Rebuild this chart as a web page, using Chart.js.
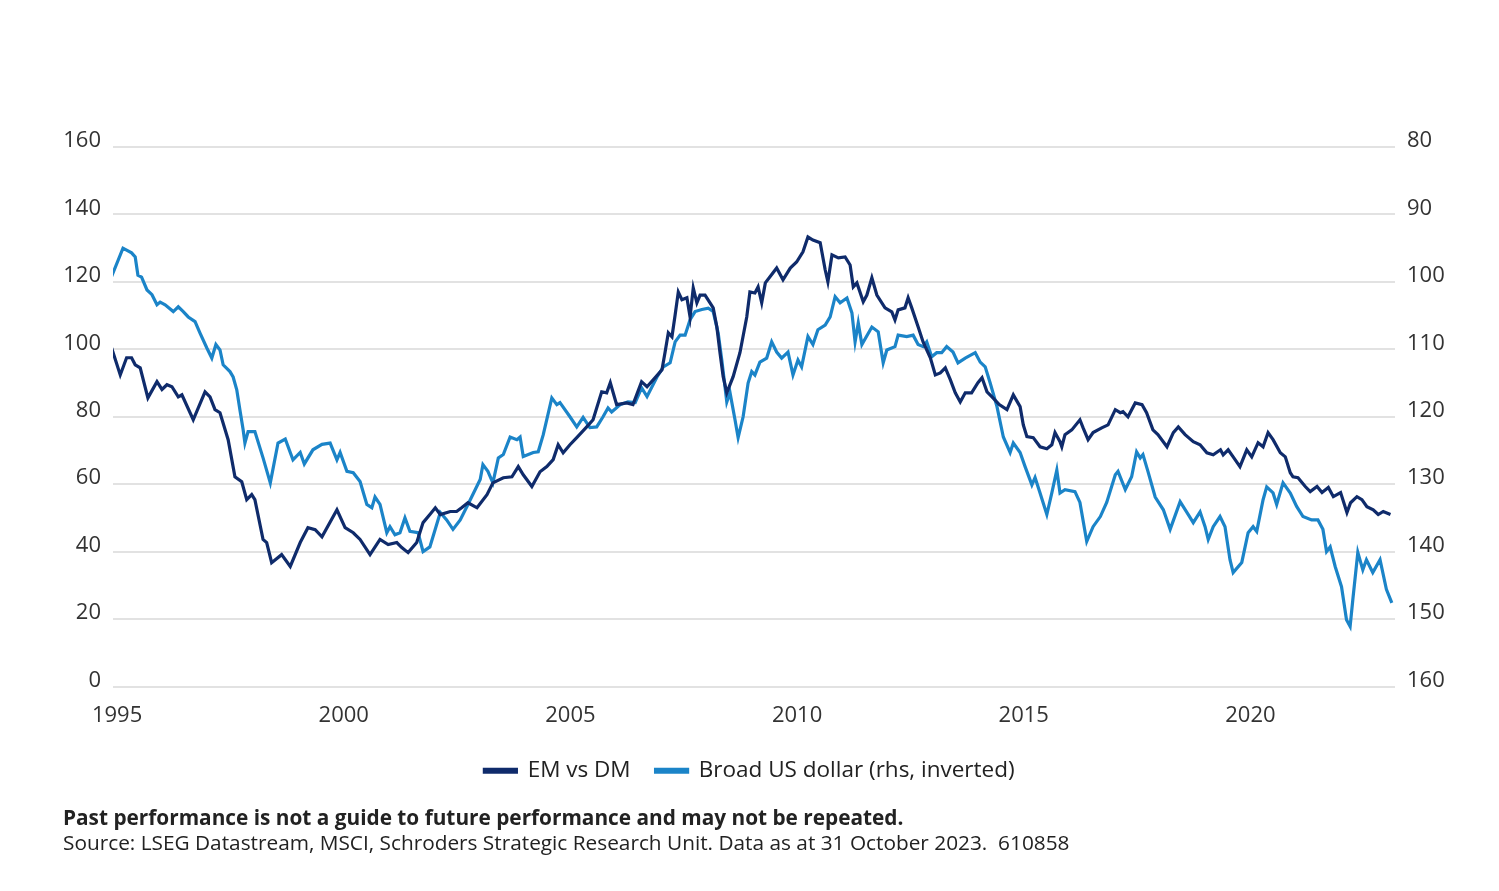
<!DOCTYPE html>
<html>
<head>
<meta charset="utf-8">
<script src="https://cdn.jsdelivr.net/npm/chart.js@4"></script>
<style>
  body { margin: 0; background: #fff; }
  #wrap { position: absolute; left: 0; top: 0; width: 1499px; height: 891px; }
  .note { position: absolute; left: 63px; font-family: "Open Sans", sans-serif; font-size: 20.8px; color: #222; white-space: nowrap; }
  #note1 { top: 803px; font-weight: bold; }
  #note2 { top: 828px; }
</style>
</head>
<body>
<div id="wrap"><canvas id="chart1"></canvas></div>
<div class="note" id="note1">Past performance is not a guide to future performance and may not be repeated.</div>
<div class="note" id="note2">Source: LSEG Datastream, MSCI, Schroders Strategic Research Unit. Data as at 31 October 2023.&nbsp; 610858</div>
<script>
// EM vs DM (left axis)
const emYears = [1994.88, 1995.07, 1995.21, 1995.32, 1995.40, 1995.51, 1995.68, 1995.88, 1995.99, 1996.10, 1996.21, 1996.35, 1996.43, 1996.68, 1996.94, 1997.05, 1997.16, 1997.27, 1997.45, 1997.60, 1997.75, 1997.86, 1997.97, 1998.04, 1998.22, 1998.30, 1998.41, 1998.63, 1998.82, 1999.04, 1999.21, 1999.37, 1999.52, 1999.85, 2000.03, 2000.21, 2000.36, 2000.58, 2000.80, 2000.98, 2001.17, 2001.28, 2001.42, 2001.61, 2001.75, 2001.90, 2002.02, 2002.13, 2002.35, 2002.49, 2002.60, 2002.74, 2002.94, 2003.16, 2003.29, 2003.52, 2003.71, 2003.85, 2003.96, 2004.15, 2004.33, 2004.48, 2004.62, 2004.73, 2004.84, 2004.99, 2005.14, 2005.36, 2005.50, 2005.69, 2005.80, 2005.88, 2006.02, 2006.24, 2006.38, 2006.57, 2006.69, 2006.87, 2007.02, 2007.09, 2007.16, 2007.24, 2007.31, 2007.38, 2007.46, 2007.57, 2007.64, 2007.71, 2007.79, 2007.86, 2007.97, 2008.08, 2008.15, 2008.23, 2008.30, 2008.37, 2008.45, 2008.59, 2008.74, 2008.89, 2008.96, 2009.07, 2009.14, 2009.22, 2009.30, 2009.47, 2009.55, 2009.69, 2009.85, 2009.99, 2010.13, 2010.24, 2010.35, 2010.51, 2010.62, 2010.68, 2010.77, 2010.91, 2011.06, 2011.17, 2011.24, 2011.32, 2011.46, 2011.54, 2011.65, 2011.76, 2011.94, 2012.09, 2012.16, 2012.23, 2012.38, 2012.45, 2012.53, 2012.67, 2012.78, 2012.94, 2013.05, 2013.16, 2013.27, 2013.38, 2013.49, 2013.60, 2013.71, 2013.85, 2013.99, 2014.08, 2014.19, 2014.30, 2014.46, 2014.63, 2014.77, 2014.92, 2014.99, 2015.07, 2015.21, 2015.36, 2015.51, 2015.62, 2015.69, 2015.80, 2015.84, 2015.91, 2016.06, 2016.24, 2016.31, 2016.42, 2016.53, 2016.72, 2016.86, 2017.02, 2017.13, 2017.19, 2017.30, 2017.46, 2017.61, 2017.71, 2017.85, 2017.96, 2018.16, 2018.30, 2018.41, 2018.56, 2018.74, 2018.89, 2019.04, 2019.18, 2019.34, 2019.40, 2019.51, 2019.62, 2019.77, 2019.92, 2020.03, 2020.17, 2020.28, 2020.39, 2020.50, 2020.66, 2020.77, 2020.88, 2020.94, 2021.05, 2021.21, 2021.32, 2021.47, 2021.58, 2021.72, 2021.83, 2021.99, 2022.13, 2022.21, 2022.35, 2022.46, 2022.57, 2022.71, 2022.82, 2022.93, 2023.09];
const emValues = [100.4, 92.4, 97.5, 97.5, 95.4, 94.5, 85.6, 90.4, 88.1, 89.5, 88.9, 85.9, 86.5, 79.1, 87.4, 85.9, 82.1, 81.2, 73.2, 62.2, 60.7, 55.4, 56.9, 55.4, 43.6, 42.7, 36.7, 39.1, 35.6, 42.7, 47.1, 46.5, 44.4, 52.4, 47.1, 45.6, 43.6, 39.1, 43.6, 42.1, 42.7, 41.2, 39.7, 42.7, 48.6, 51.0, 53.0, 51.0, 51.9, 51.9, 53.0, 54.5, 53.0, 56.9, 60.4, 61.9, 62.2, 65.2, 62.8, 59.3, 63.7, 65.2, 67.3, 71.7, 69.3, 71.7, 73.8, 77.0, 79.1, 87.4, 87.1, 90.1, 83.6, 84.1, 83.6, 90.4, 88.9, 91.6, 93.9, 99.3, 104.9, 103.7, 110.2, 117.0, 114.7, 115.3, 109.6, 118.2, 113.8, 116.1, 116.1, 113.8, 112.3, 106.7, 99.0, 91.9, 87.1, 91.9, 99.0, 109.6, 117.0, 116.7, 118.5, 113.8, 119.7, 122.7, 124.1, 120.6, 124.1, 125.9, 128.9, 133.3, 132.4, 131.6, 123.6, 120.0, 128.0, 127.1, 127.4, 125.0, 118.5, 119.7, 114.1, 116.1, 121.2, 116.1, 112.3, 111.1, 108.7, 111.7, 112.3, 115.3, 112.3, 106.7, 102.2, 97.5, 92.4, 93.0, 94.5, 91.0, 87.1, 84.4, 87.1, 87.1, 90.1, 91.6, 87.4, 85.9, 83.6, 82.1, 86.5, 83.0, 77.6, 74.1, 73.8, 71.1, 70.5, 71.7, 75.3, 72.6, 71.1, 74.7, 76.1, 79.1, 76.7, 73.2, 75.3, 76.7, 77.6, 82.1, 81.2, 81.5, 80.0, 84.1, 83.6, 81.2, 76.1, 74.7, 71.1, 75.3, 77.0, 74.7, 72.6, 71.7, 69.3, 68.7, 70.2, 68.7, 70.2, 68.1, 65.2, 70.2, 68.1, 72.3, 71.1, 75.3, 73.2, 69.3, 68.1, 63.4, 62.2, 61.9, 59.3, 57.8, 59.3, 57.5, 59.0, 56.3, 57.5, 51.6, 54.5, 56.3, 55.4, 53.3, 52.4, 51.0, 51.9, 51.0];

// Broad US dollar (right axis, inverted)
const usdYears = [1994.85, 1995.13, 1995.32, 1995.40, 1995.46, 1995.54, 1995.66, 1995.77, 1995.88, 1995.95, 1996.06, 1996.24, 1996.35, 1996.46, 1996.57, 1996.72, 1996.83, 1996.98, 1997.09, 1997.18, 1997.27, 1997.34, 1997.49, 1997.56, 1997.64, 1997.71, 1997.78, 1997.82, 1997.89, 1998.04, 1998.22, 1998.38, 1998.55, 1998.71, 1998.88, 1999.04, 1999.13, 1999.32, 1999.52, 1999.70, 1999.85, 1999.92, 2000.07, 2000.21, 2000.36, 2000.51, 2000.62, 2000.69, 2000.80, 2000.95, 2001.02, 2001.13, 2001.24, 2001.35, 2001.46, 2001.64, 2001.75, 2001.90, 2002.13, 2002.27, 2002.41, 2002.57, 2002.74, 2003.01, 2003.07, 2003.18, 2003.29, 2003.41, 2003.52, 2003.67, 2003.82, 2003.89, 2003.96, 2004.18, 2004.29, 2004.40, 2004.59, 2004.70, 2004.77, 2004.99, 2005.14, 2005.28, 2005.43, 2005.58, 2005.72, 2005.83, 2005.91, 2006.10, 2006.27, 2006.43, 2006.57, 2006.69, 2006.91, 2007.05, 2007.20, 2007.31, 2007.42, 2007.53, 2007.64, 2007.75, 2007.90, 2008.04, 2008.15, 2008.26, 2008.34, 2008.45, 2008.52, 2008.63, 2008.70, 2008.81, 2008.92, 2009.00, 2009.07, 2009.18, 2009.33, 2009.44, 2009.55, 2009.66, 2009.80, 2009.91, 2010.02, 2010.10, 2010.24, 2010.35, 2010.46, 2010.62, 2010.73, 2010.84, 2010.95, 2011.10, 2011.21, 2011.28, 2011.35, 2011.43, 2011.65, 2011.79, 2011.90, 2011.98, 2012.16, 2012.23, 2012.42, 2012.56, 2012.67, 2012.78, 2012.86, 2012.97, 2013.08, 2013.19, 2013.30, 2013.44, 2013.55, 2013.71, 2013.93, 2014.04, 2014.15, 2014.26, 2014.41, 2014.55, 2014.70, 2014.77, 2014.92, 2015.03, 2015.18, 2015.25, 2015.36, 2015.51, 2015.62, 2015.73, 2015.80, 2015.91, 2016.13, 2016.24, 2016.39, 2016.53, 2016.69, 2016.83, 2017.02, 2017.08, 2017.24, 2017.38, 2017.49, 2017.57, 2017.63, 2017.74, 2017.90, 2018.08, 2018.23, 2018.45, 2018.63, 2018.74, 2018.89, 2019.00, 2019.07, 2019.18, 2019.33, 2019.44, 2019.55, 2019.62, 2019.81, 2019.95, 2020.06, 2020.14, 2020.28, 2020.36, 2020.50, 2020.58, 2020.72, 2020.88, 2021.02, 2021.16, 2021.35, 2021.49, 2021.60, 2021.68, 2021.76, 2021.87, 2022.01, 2022.12, 2022.20, 2022.26, 2022.37, 2022.48, 2022.56, 2022.70, 2022.86, 2023.00, 2023.12];
const usdValues = [99.7, 95.0, 95.7, 96.3, 99.0, 99.3, 101.2, 101.9, 103.4, 103.0, 103.4, 104.4, 103.7, 104.4, 105.2, 105.9, 107.6, 109.8, 111.3, 109.3, 110.1, 112.3, 113.3, 114.1, 116.0, 119.0, 121.9, 123.9, 122.2, 122.2, 126.1, 129.8, 123.9, 123.3, 126.4, 125.3, 127.0, 124.9, 124.1, 123.9, 126.4, 125.3, 128.1, 128.3, 129.6, 133.0, 133.5, 131.9, 133.0, 137.2, 136.3, 137.5, 137.2, 135.0, 137.0, 137.2, 140.0, 139.3, 134.2, 135.3, 136.7, 135.3, 133.0, 129.3, 127.1, 128.1, 129.8, 126.1, 125.6, 123.0, 123.4, 123.0, 125.9, 125.3, 125.2, 122.7, 117.2, 118.2, 117.9, 120.0, 121.5, 120.1, 121.6, 121.5, 120.0, 118.7, 119.3, 118.2, 117.8, 117.9, 115.7, 117.0, 114.1, 112.6, 112.0, 108.9, 107.9, 107.9, 105.6, 104.4, 104.1, 103.9, 104.4, 107.6, 111.6, 117.8, 116.4, 120.4, 123.1, 120.0, 115.0, 113.3, 113.8, 111.9, 111.3, 108.9, 110.4, 111.3, 110.4, 113.8, 111.6, 112.6, 108.1, 109.3, 107.1, 106.4, 105.2, 102.2, 103.1, 102.4, 104.6, 108.9, 106.1, 109.3, 106.7, 107.4, 112.0, 110.1, 109.6, 107.9, 108.1, 107.9, 109.3, 109.6, 108.9, 111.1, 110.5, 110.5, 109.6, 110.4, 112.0, 111.3, 110.5, 111.9, 112.6, 115.0, 118.5, 123.0, 125.3, 123.9, 125.3, 127.4, 130.1, 129.0, 131.3, 134.5, 131.3, 127.9, 131.3, 130.8, 131.1, 132.7, 138.5, 136.3, 134.8, 132.7, 128.6, 128.1, 130.8, 128.9, 125.2, 126.1, 125.6, 128.1, 131.9, 133.8, 136.7, 132.6, 134.5, 135.7, 134.1, 136.3, 138.2, 136.3, 134.8, 136.3, 141.2, 143.1, 141.6, 137.2, 136.3, 137.0, 132.3, 130.4, 131.3, 133.0, 129.8, 131.3, 133.3, 134.8, 135.3, 135.3, 136.7, 140.0, 139.3, 142.2, 145.2, 150.1, 151.1, 147.1, 140.1, 142.7, 141.2, 143.1, 141.2, 145.6, 147.6];

const yearTicks = [1995, 2000, 2005, 2010, 2015, 2020];
const seriesNames = ["EM vs DM", "Broad US dollar (rhs, inverted)"];

const darkBlue = "#0f2b6b";
const lightBlue = "#1b84c8";

function toPoints(xs, ys) {
    let pts = [];
    for (let i = 0; i < xs.length; i++) {
        pts.push({x: xs[i], y: ys[i]});
    }
    return pts;
}

const tickFont = {family: "Open Sans", size: 22};

var ctx = document.getElementById("chart1").getContext("2d");
var myChart = new Chart(ctx, {
    type: "line",
    data: {
        datasets: [
            {
                label: seriesNames[0],
                data: toPoints(emYears, emValues),
                borderColor: darkBlue,
                backgroundColor: darkBlue,
                borderWidth: 3.2,
                pointRadius: 0,
                tension: 0,
                yAxisID: "yL"
            },
            {
                label: seriesNames[1],
                data: toPoints(usdYears, usdValues),
                borderColor: lightBlue,
                backgroundColor: lightBlue,
                borderWidth: 3.2,
                pointRadius: 0,
                tension: 0,
                yAxisID: "yR"
            }
        ]
    },
    options: {
        responsive: true,
        maintainAspectRatio: false,
        animation: false,
        layout: {padding: {top: 147, bottom: 99, left: 0, right: 0}},
        plugins: {
            legend: {
                position: "bottom",
                labels: {
                    boxWidth: 32,
                    boxHeight: 3,
                    padding: 25,
                    color: "#222",
                    font: {family: "Open Sans", size: 22.5}
                }
            },
            tooltip: {enabled: false}
        },
        scales: {
            x: {
                type: "linear",
                min: 1994.91,
                max: 2023.19,
                afterBuildTicks: (scale) => {
                    scale.ticks = yearTicks.map(v => ({value: v}));
                },
                afterFit: (scale) => { scale.height = 48; },
                grid: {display: false, drawTicks: false},
                border: {display: false},
                ticks: {
                    color: "#333",
                    font: tickFont,
                    padding: 16,
                    maxRotation: 0,
                    callback: (v) => String(v)
                }
            },
            yL: {
                position: "left",
                min: 0,
                max: 160,
                afterFit: (scale) => { scale.width = 113; },
                grid: {color: "#e2e2e2", lineWidth: 2, drawTicks: false},
                border: {display: false},
                ticks: {stepSize: 20, color: "#333", font: tickFont, padding: 12, labelOffset: -6}
            },
            yR: {
                position: "right",
                min: 80,
                max: 160,
                reverse: true,
                afterFit: (scale) => { scale.width = 104; },
                grid: {drawOnChartArea: false, drawTicks: false},
                border: {display: false},
                ticks: {stepSize: 10, color: "#333", font: tickFont, padding: 12, labelOffset: -6}
            }
        }
    }
});
</script>
</body>
</html>
